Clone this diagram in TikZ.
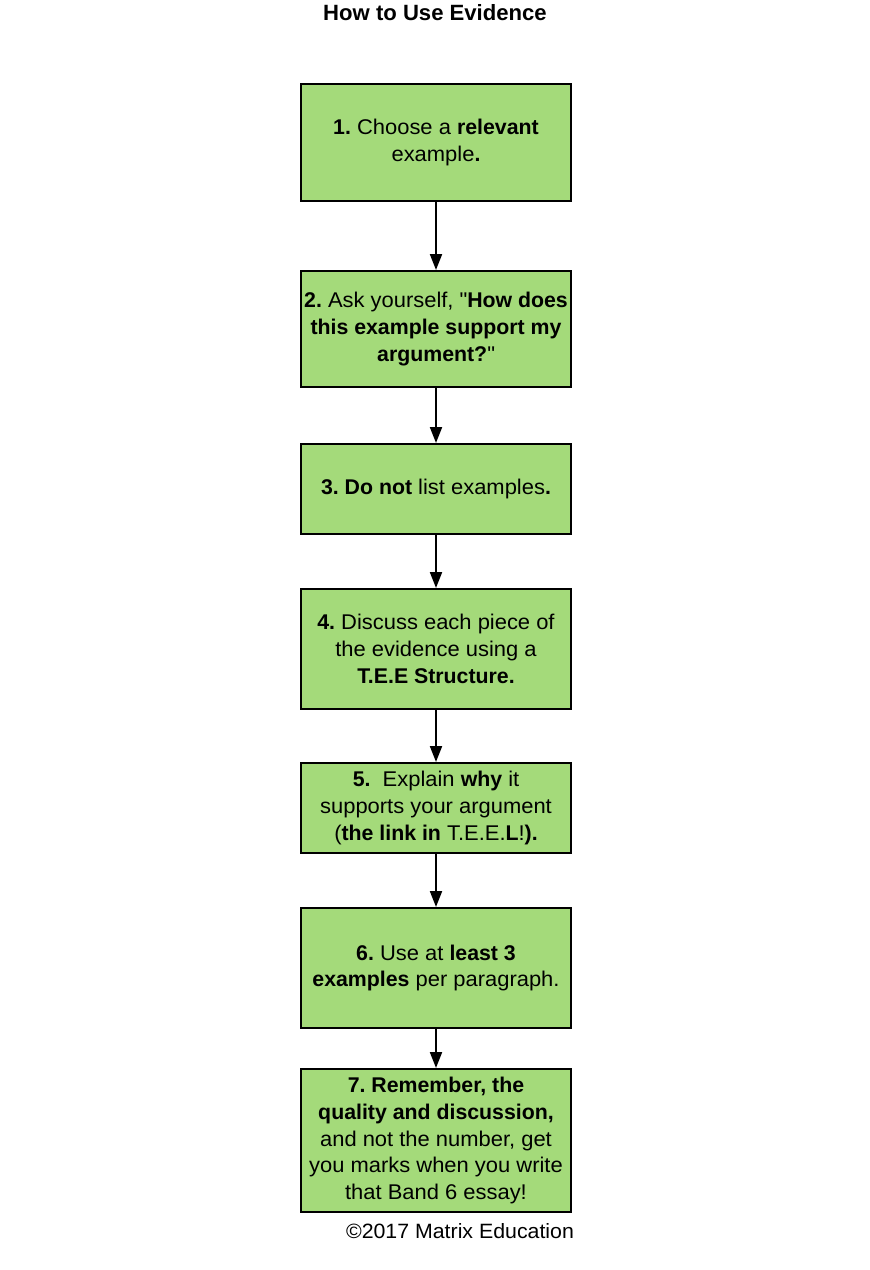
\documentclass[tikz,border=0pt]{standalone}
\usepackage{fontspec}
\setmainfont{Liberation Sans}[UprightFeatures={FakeStretch=1.03}]
\usetikzlibrary{arrows.meta}
\definecolor{boxgreen}{HTML}{A4DA7A}
\newcommand{\sq}{\XeTeXglyph\XeTeXcharglyph"22\relax}
\tikzset{
  stepbox/.style={draw=black, line width=2pt, fill=boxgreen, rectangle,
    minimum width=270pt, align=center, inner sep=0pt,
    font=\fontsize{21.3}{26.7}\selectfont\frenchspacing},
  flow/.style={draw=black, line width=2pt,
    -{Triangle[width=12pt,length=16pt]}, shorten >=0pt},
  lbl/.style={font=\fontsize{20.7}{26}\selectfont, inner sep=0pt}
}
\begin{document}
\begin{tikzpicture}[x=1pt,y=-1pt]
\useasboundingbox (0,0) rectangle (870,1270);
\node[lbl, anchor=base, font=\fontsize{22.1}{26}\selectfont\bfseries] (title) at (435,20) {How to Use Evidence};
\node[stepbox, minimum height=117pt] (s1) at (436,142.5) {\textbf{1.} Choose a \textbf{relevant}\\ example\textbf{.}};
\node[stepbox, minimum height=116pt] (s2) at (436,329) {\textbf{2.} Ask yourself, \sq\textbf{How does}\\ \textbf{this example support my}\\ \textbf{argument?}\sq};
\node[stepbox, minimum height=90pt] (s3) at (436,489) {\textbf{3. Do not} list examples\textbf{.}};
\node[stepbox, minimum height=120pt] (s4) at (436,649) {\textbf{4.} Discuss each piece of\\ the evidence using a\\ \textbf{T.E.E Structure.}};
\node[stepbox, minimum height=90pt] (s5) at (436,808) {\textbf{5.}\ \ Explain \textbf{why} it\\ supports your argument\\ (\textbf{the link in} T.E.E.\textbf{L}!\textbf{).}};
\node[stepbox, minimum height=120pt] (s6) at (436,968) {\textbf{6.} Use at \textbf{least 3}\\ \textbf{examples} per paragraph.};
\node[stepbox, minimum height=143pt] (s7) at (436,1140.5) {\textbf{7. Remember, the}\\ \textbf{quality and discussion,}\\ and not the number, get\\ you marks when you write\\ that Band 6 essay!};
\node[lbl, anchor=base] (copy) at (460,1238) {©2017 Matrix Education};
\draw[flow] (s1.south) -- (s2.north);
\draw[flow] (s2.south) -- (s3.north);
\draw[flow] (s3.south) -- (s4.north);
\draw[flow] (s4.south) -- (s5.north);
\draw[flow] (s5.south) -- (s6.north);
\draw[flow] (s6.south) -- (s7.north);
\end{tikzpicture}
\end{document}
